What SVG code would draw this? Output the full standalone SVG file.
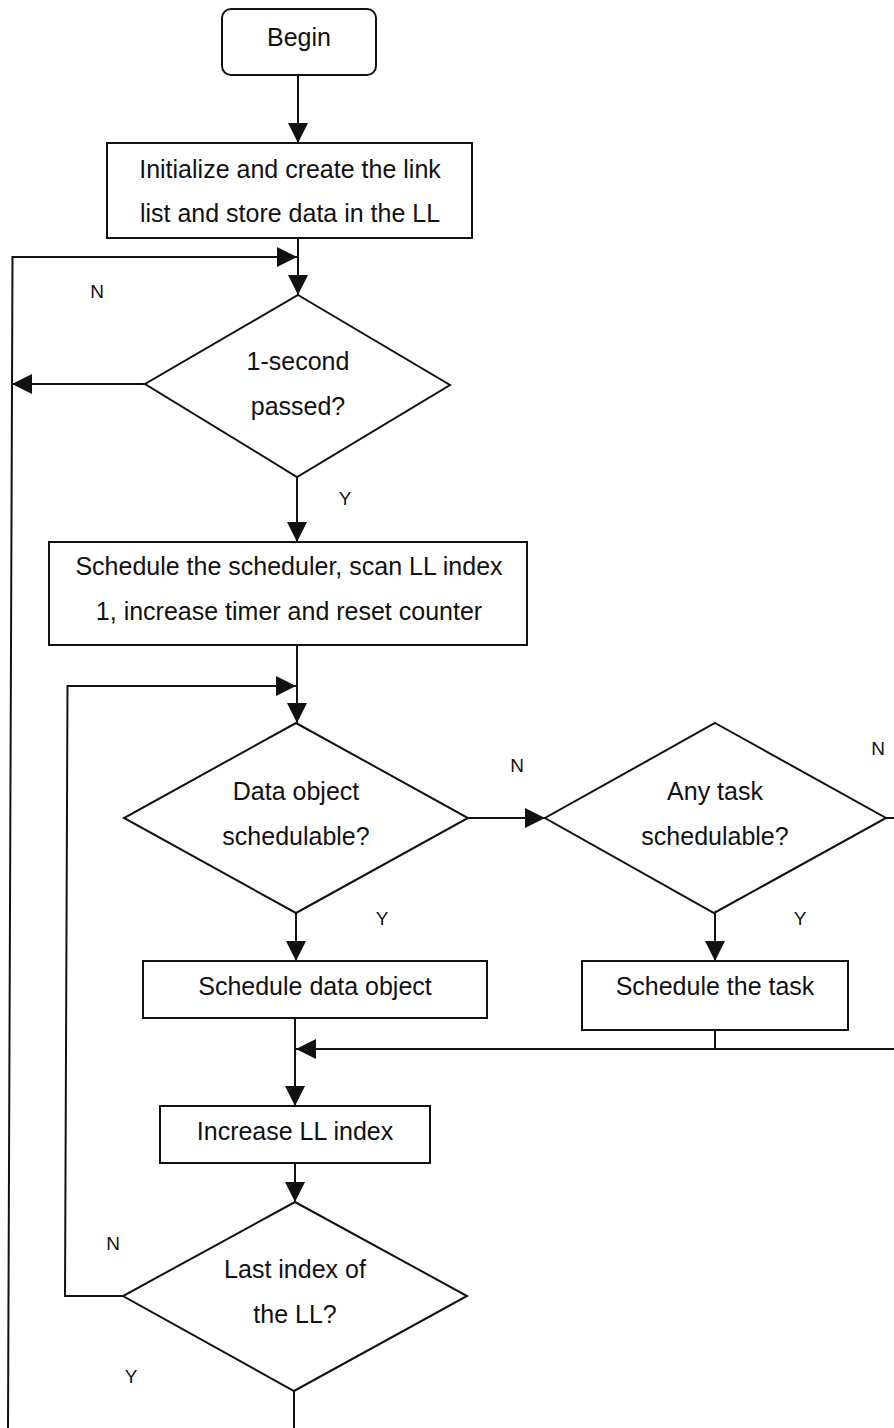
<svg xmlns="http://www.w3.org/2000/svg" width="894" height="1428" viewBox="0 0 894 1428">
<style>
.shape{fill:#fff;stroke:#111;stroke-width:2}
.t{font-family:"Liberation Sans",Arial,sans-serif;font-size:25px;fill:#111;text-anchor:middle}
.lbl{font-family:"Liberation Sans",Arial,sans-serif;font-size:19px;fill:#111;text-anchor:middle}
.c{fill:none;stroke:#111;stroke-width:2}
</style>
<defs>
<marker id="ah" markerUnits="userSpaceOnUse" markerWidth="22" markerHeight="22" refX="21" refY="11" orient="auto">
<path d="M1,1 L21,11 L1,21 Z" fill="#111"/>
</marker>
</defs>
<rect width="894" height="1428" fill="#fff"/>
<g id="connectors">
<line class="c" x1="298" y1="75" x2="298" y2="143" marker-end="url(#ah)"/>
<line class="c" x1="298" y1="238" x2="298" y2="295" marker-end="url(#ah)"/>
<polyline class="c" points="8,1428 12.5,257 297,257" marker-end="url(#ah)"/>
<line class="c" x1="145" y1="384" x2="12" y2="384" marker-end="url(#ah)"/>
<line class="c" x1="297" y1="477" x2="297" y2="542" marker-end="url(#ah)"/>
<line class="c" x1="297" y1="645" x2="297" y2="723" marker-end="url(#ah)"/>
<polyline class="c" points="123,1296 65,1296 67.5,686 296,686" marker-end="url(#ah)"/>
<line class="c" x1="296" y1="913" x2="296" y2="961" marker-end="url(#ah)"/>
<line class="c" x1="468" y1="818" x2="545" y2="818" marker-end="url(#ah)"/>
<line class="c" x1="715" y1="913" x2="715" y2="961" marker-end="url(#ah)"/>
<line class="c" x1="886" y1="818" x2="894" y2="818"/>
<line class="c" x1="715" y1="1030" x2="715" y2="1049"/>
<line class="c" x1="894" y1="1049" x2="296" y2="1049" marker-end="url(#ah)"/>
<line class="c" x1="295" y1="1012" x2="295" y2="1106" marker-end="url(#ah)"/>
<line class="c" x1="295" y1="1163" x2="295" y2="1202" marker-end="url(#ah)"/>
<line class="c" x1="294" y1="1391" x2="294" y2="1428"/>
<text class="lbl" x="97" y="298">N</text>
<text class="lbl" x="345" y="505">Y</text>
<text class="lbl" x="382" y="925">Y</text>
<text class="lbl" x="517" y="772">N</text>
<text class="lbl" x="878" y="755">N</text>
<text class="lbl" x="800" y="925">Y</text>
<text class="lbl" x="113" y="1250">N</text>
<text class="lbl" x="131" y="1383">Y</text>
</g>
<g id="begin">
<rect class="shape" x="222" y="9" width="154" height="66" rx="9"/>
<text class="t" x="299" y="46">Begin</text>
</g>
<g id="init">
<rect class="shape" x="107" y="143" width="365" height="95"/>
<text class="t" x="290" y="178">Initialize and create the link</text>
<text class="t" x="290" y="222">list and store data in the LL</text>
</g>
<g id="one-second">
<polygon class="shape" points="298,295 450,385 297,477 145,384"/>
<text class="t" x="298" y="370">1-second</text>
<text class="t" x="298" y="415">passed?</text>
</g>
<g id="schedule-scheduler">
<rect class="shape" x="49" y="542" width="478" height="103"/>
<text class="t" x="289" y="575">Schedule the scheduler, scan LL index</text>
<text class="t" x="289" y="620">1, increase timer and reset counter</text>
</g>
<g id="data-object">
<polygon class="shape" points="296,723 468,818 296,913 124,818"/>
<text class="t" x="296" y="800">Data object</text>
<text class="t" x="296" y="845">schedulable?</text>
</g>
<g id="any-task">
<polygon class="shape" points="715,723 886,818 714,913 545,818"/>
<text class="t" x="715" y="800">Any task</text>
<text class="t" x="715" y="845">schedulable?</text>
</g>
<g id="schedule-data">
<rect class="shape" x="143" y="961" width="344" height="57"/>
<text class="t" x="315" y="995">Schedule data object</text>
</g>
<g id="schedule-task">
<rect class="shape" x="582" y="961" width="266" height="69"/>
<text class="t" x="715" y="995">Schedule the task</text>
</g>
<g id="increase">
<rect class="shape" x="160" y="1106" width="270" height="57"/>
<text class="t" x="295" y="1140">Increase LL index</text>
</g>
<g id="last-index">
<polygon class="shape" points="295,1202 467,1296 294,1391 123,1296"/>
<text class="t" x="295" y="1278">Last index of</text>
<text class="t" x="295" y="1323">the LL?</text>
</g>
</svg>
